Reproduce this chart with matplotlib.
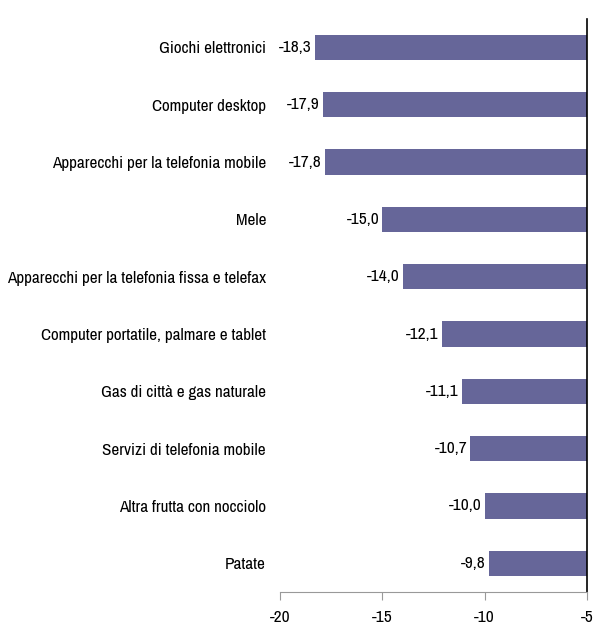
import matplotlib.pyplot as plt

categories = ['Giochi elettronici', 'Computer desktop', 'Apparecchi per la telefonia mobile',
              'Mele', 'Apparecchi per la telefonia fissa e telefax',
              'Computer portatile, palmare e tablet', 'Gas di città e gas naturale',
              'Servizi di telefonia mobile', 'Altra frutta con nocciolo', 'Patate']
values = [-18.3, -17.9, -17.8, -15.0, -14.0, -12.1, -11.1, -10.7, -10.0, -9.8]
xticks = [-20, -15, -10, -5]

plt.rcParams['font.family'] = ['Archivo Narrow', 'DejaVu Sans']

fig = plt.figure(figsize=(5.93, 6.27), dpi=100)
ax = fig.add_axes([0.472, 0.056, 0.518, 0.914])

ypos = list(range(len(categories)))
base = -5
ax.barh(ypos, [v - base for v in values], left=base, height=0.44, color='#666699')

# value labels just left of each bar end, comma as decimal mark
for y, v in zip(ypos, values):
    ax.text(v - 0.15, y, f'{v:.1f}'.replace('.', ','), ha='right', va='center', fontsize=12.5)

ax.set_xlim(-20, -5)
ax.set_ylim(len(categories) - 0.5, -0.5)
ax.set_yticks(ypos)
ax.set_yticklabels(categories, fontsize=12.3)
ax.tick_params(axis='y', length=0, pad=10)
ax.set_xticks(xticks)
ax.set_xticklabels([str(t) for t in xticks], fontsize=12.5)
ax.tick_params(axis='x', length=6, color='#999999', pad=7)

for s in ['top', 'left']:
    ax.spines[s].set_visible(False)
ax.spines['bottom'].set_color('#999999')
ax.spines['right'].set_color('black')
ax.spines['right'].set_linewidth(1.2)

fig.savefig('out.png', dpi=100)
